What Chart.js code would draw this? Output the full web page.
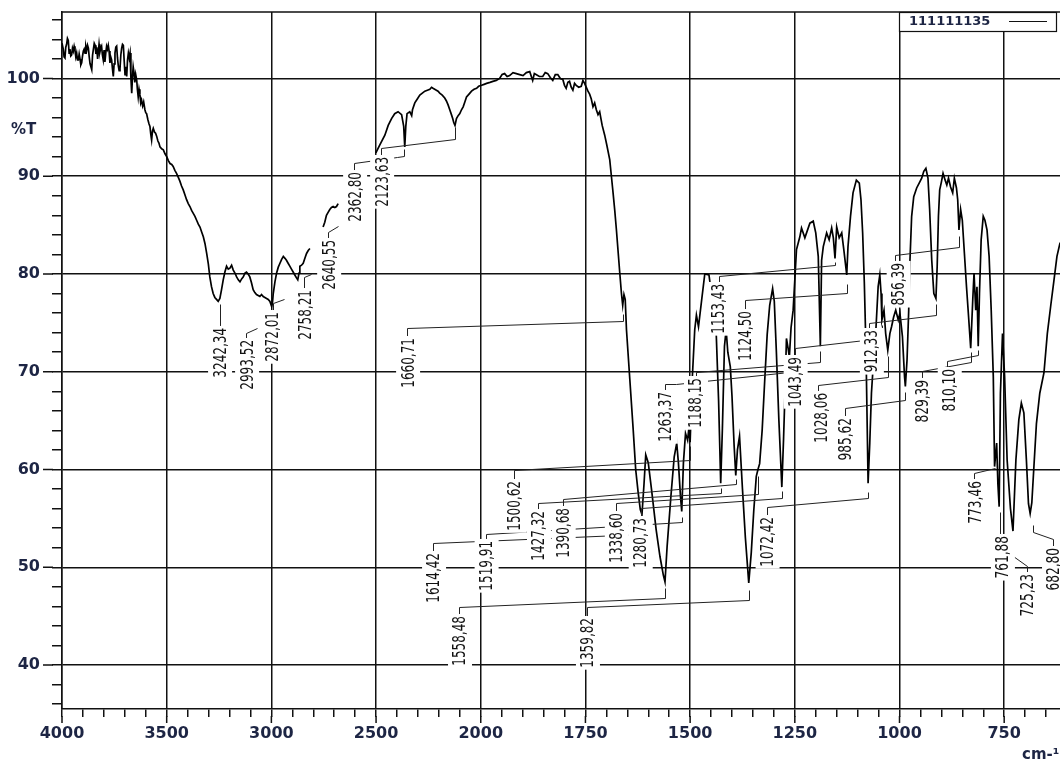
<!DOCTYPE html>
<html>
<head>
<meta charset="utf-8">
<title>111111135</title>
<script src="https://cdn.jsdelivr.net/npm/chart.js@4.4.0/dist/chart.umd.min.js"></script>
<style>
  html, body { margin: 0; padding: 0; background: #fff; overflow: hidden; }
  #wrap { width: 1068px; height: 760px; }
</style>
</head>
<body>
<div id="wrap"><canvas id="myChart" width="1068" height="760"></canvas></div>
<script>
// spectrum: [wavenumber cm-1, %T]
const plateau = [
  [4000,103.6],[3994,103.0],[3990,102.2],[3986,102.1],[3982,103.2],[3978,103.5],[3974,104.1],[3970,103.9],[3966,102.6],[3962,103.0],
  [3958,102.3],[3954,102.4],[3950,103.1],[3946,102.8],[3942,103.3],[3938,102.9],[3934,102.2],[3930,102.6],[3926,101.9],[3922,101.9],
  [3918,102.5],[3914,102.0],[3910,101.4],[3906,101.6],[3902,102.3],[3898,102.8],[3894,103.0],[3890,102.6],[3886,103.3],[3882,102.9],
  [3878,103.4],[3874,103.1],[3870,102.2],[3866,101.5],[3862,101.2],[3858,100.9],[3854,102.4],[3850,103.0],[3846,103.6],[3842,103.4],
  [3838,102.5],[3834,103.2],[3830,102.0],[3827,102.6],[3823,103.5],[3819,102.7],[3815,103.1],[3811,103.3],[3807,102.4],[3803,101.9],
  [3799,102.9],[3795,101.7],[3791,102.6],[3787,103.3],[3783,103.0],[3779,103.4],[3775,102.8],[3771,101.6],[3767,102.2],[3763,101.9],
  [3759,101.0],[3755,100.2],[3751,101.5],[3747,102.6],[3743,103.2],[3739,103.3],[3735,102.1],[3731,101.3],[3727,100.8],[3723,101.0],
  [3719,102.4],[3715,103.1],[3711,103.5],[3707,103.4],[3703,101.8],[3699,100.4],[3695,101.2],[3691,100.2],[3687,101.9],[3683,102.6],
  [3679,102.1],[3675,102.6],[3671,100.1],[3667,98.5],[3663,100.3],[3660,101.2],[3656,100.6],[3652,99.6],[3648,100.4],[3643,99.8],
  [3640,98.9]
];
const ohBand = [
  [3636,98.1],[3632,98.9],[3628,98.4],[3624,97.5],[3620,97.8],[3615,97.2],[3610,97.6],[3604,96.8],[3600,96.5],[3596,96.4],
  [3590,95.8],[3585,95.4],[3580,95.1],[3576,94.3],[3572,93.7],[3568,94.6],[3564,94.9],[3558,94.5],[3553,94.4],[3548,94.1],
  [3542,93.6],[3537,93.4],[3532,93.0],[3524,92.8],[3516,92.7],[3508,92.3],[3500,92.0],[3492,91.6],[3484,91.3],[3476,91.2],
  [3469,91.0],[3461,90.6],[3453,90.3],[3445,89.9],[3437,89.5],[3429,89.0],[3421,88.6],[3413,88.1],[3405,87.6],[3397,87.2],
  [3389,86.9],[3381,86.5],[3373,86.2],[3365,85.9],[3357,85.5],[3349,85.1],[3341,84.8],[3333,84.3],[3325,83.8],[3317,83.1],
  [3309,82.1],[3301,81.0],[3294,79.7],[3286,78.7],[3278,78.0],[3270,77.6],[3262,77.4],[3254,77.2],[3246,77.5],[3238,78.4],
  [3230,79.4],[3222,80.2],[3214,80.8],[3206,80.5],[3198,80.6],[3190,80.9],[3182,80.4],[3174,80.1],[3166,79.7],[3158,79.4],
  [3150,79.2],[3142,79.5],[3134,79.7],[3126,80.1],[3119,80.2],[3111,80.0],[3103,79.7],[3095,79.1],[3087,78.4],[3079,78.1],
  [3071,77.9],[3063,77.8],[3055,77.7],[3047,77.9],[3039,77.7],[3031,77.6],[3023,77.5],[3015,77.4],[3007,77.2],[2999,76.7],
  [2995,77.0],[2991,78.0],[2983,79.2],[2975,80.1],[2967,80.7],[2959,81.1],[2951,81.5],[2943,81.8],[2935,81.6],[2928,81.4],
  [2920,81.1],[2912,80.8],[2904,80.5],[2896,80.2],[2888,79.9],[2880,79.6],[2874,79.4],[2868,80.1],[2864,80.8],[2856,80.9],
  [2848,81.1],[2840,81.6],[2832,82.1],[2824,82.4],[2816,82.6]
];
const chBand = [
  [2753,84.8],[2745,85.3],[2737,86.0],[2729,86.3],[2721,86.6],[2713,86.8],[2705,86.9],[2697,86.8],[2689,86.9],[2681,87.2]
];
const baseline = [
  [2501,92.4],[2482,93.2],[2458,94.2],[2442,95.2],[2426,95.9],[2411,96.4],[2395,96.6],[2378,96.3],[2368,95.1],[2363,93.0],
  [2358,95.1],[2352,96.4],[2339,96.6],[2330,96.2],[2326,96.8],[2315,97.5],[2303,97.9],[2291,98.3],[2279,98.5],[2267,98.7],
  [2255,98.8],[2243,98.9],[2235,99.1],[2228,99.0],[2220,98.9],[2212,98.8],[2204,98.7],[2196,98.5],[2184,98.3],[2172,98.0],
  [2164,97.7],[2156,97.3],[2148,96.8],[2140,96.3],[2134,95.9],[2129,95.5],[2123,95.2],[2116,95.9],[2108,96.2],[2100,96.4],
  [2092,96.8],[2084,97.1],[2076,97.6],[2068,98.1],[2056,98.4],[2044,98.7],[2032,98.9],[2020,99.0],[2010,99.2],[1998,99.3],
  [1992,99.4],[1986,99.5],[1978,99.6],[1971,99.7],[1963,99.8],[1955,100.0],[1949,100.4],[1943,100.5],[1937,100.2],[1931,100.3],
  [1923,100.6],[1915,100.5],[1907,100.4],[1899,100.3],[1891,100.6],[1883,100.7],[1876,99.8],[1872,100.5],[1868,100.4],[1860,100.2],
  [1852,100.2],[1846,100.6],[1840,100.5],[1834,100.1],[1828,99.8],[1822,100.4],[1816,100.4],[1810,100.0],[1804,99.9],[1800,99.3],
  [1796,99.0],[1792,99.6],[1788,99.7],[1784,99.1],[1780,98.8],[1776,99.5],[1772,99.3],[1766,99.1],[1760,99.2],[1756,99.8],
  [1752,99.5],[1749,99.2],[1744,98.7],[1740,98.4],[1736,97.9],[1732,97.1],[1728,97.5],[1724,96.8],[1720,96.3],[1716,96.6],
  [1713,95.9],[1710,95.2],[1704,94.2],[1699,93.2],[1692,91.7],[1688,90.0],[1684,88.3],[1680,86.5],[1676,84.5],[1672,82.3],
  [1668,80.1],[1664,78.0],[1661,76.8],[1658,77.9],[1655,77.4],[1652,74.3],[1644,69.2]
];
const fingerprint = [
  [1636,64.1],[1630,60.0],[1624,57.6],[1619,55.9],[1615,55.4],[1610,58.6],[1606,61.5],[1600,60.7],[1592,57.9],[1581,53.8],
  [1572,51.1],[1564,49.2],[1560,48.5],[1555,52.1],[1546,57.2],[1538,61.3],[1532,62.7],[1528,60.7],[1523,57.2],[1520,55.7],
  [1516,60.7],[1511,63.7],[1506,63.0],[1503,64.2],[1500,62.8],[1495,69.2],[1489,74.3],[1485,75.8],[1480,74.6],[1472,77.5],
  [1465,80.0],[1455,79.9],[1446,77.0],[1438,74.3],[1432,67.0],[1427,58.6],[1423,64.1],[1418,72.6],[1414,74.3],[1410,72.0],
  [1404,70.5],[1400,67.5],[1395,62.5],[1391,59.4],[1387,62.0],[1382,63.4],[1375,58.0],[1368,53.0],[1360,48.4],[1354,51.5],
  [1348,55.8],[1342,59.3],[1338,60.0],[1334,60.6],[1328,64.0],[1322,69.0],[1316,73.8],[1310,76.8],[1303,78.5],[1299,77.2],
  [1294,72.0],[1288,65.0],[1281,58.2],[1277,63.0],[1273,68.5],[1270,73.4],[1266,72.4],[1263,71.5],[1259,74.5],[1254,76.3],
  [1246,82.5],[1238,83.8],[1234,84.7],[1226,83.7],[1214,85.2],[1206,85.4],[1200,84.2],[1194,81.8],[1189,72.6],[1186,81.4],
  [1182,82.8],[1174,84.2],[1168,83.5],[1162,84.7],[1158,83.7],[1154,81.6],[1150,84.8],[1144,83.7],[1138,84.2],[1133,82.5],
  [1126,79.9],[1123,82.8],[1117,85.9],[1111,88.3],[1103,89.6],[1096,89.3],[1092,87.6],[1088,84.2],[1084,79.1],[1080,72.2],
  [1075,58.6],[1071,62.7],[1067,67.8],[1063,70.5],[1056,74.6],[1051,78.7],[1047,79.9],[1044,78.0],[1042,75.3],[1037,76.3],
  [1033,73.9],[1028,72.2],[1023,73.9],[1019,74.6],[1014,75.6],[1009,76.3],[1003,75.3],[999,76.0],[993,73.6],[988,69.5],
  [986,68.5],[982,71.2],[978,76.3],[975,81.4],[971,85.9],[966,87.9],[959,88.8],[953,89.3],[947,89.8],[942,90.5],
  [937,90.8],[932,89.8],[928,86.6],[923,81.4],[918,78.0],[913,77.5],[910,80.8],[907,85.9],[904,88.6],[900,89.4],
  [896,90.3],[891,89.6],[887,89.1],[883,89.8],[878,88.9],[873,88.3],[869,89.8],[864,88.8],[861,87.6],[858,84.5],
  [854,86.6],[850,85.5],[845,82.1],[840,78.7],[835,75.6],[830,72.4],[825,77.4],[822,80.1],[818,76.3],[815,78.7],
  [812,72.6],[809,78.0],[805,83.5],[800,85.9],[796,85.5],[791,84.5],[786,81.8],[781,76.3],[776,69.5],[773,60.3],
  [768,62.7],[765,58.5],[762,56.2],[759,67.8],[754,73.9],[749,69.5],[743,61.0],[735,56.0],[729,53.7],[722,61.0],
  [715,65.1],[709,66.8],[703,65.8],[697,61.0],[692,56.5],[688,55.5],[684,56.6],[679,60.3],[673,64.7],[665,67.8],
  [655,69.9],[647,73.9],[639,76.7],[631,79.4],[624,81.8],[617,83.1],[603,84.0]
];

const legendLabel = '111111135';
const majorTicksX = [4000, 3500, 3000, 2500, 2000, 1750, 1500, 1250, 1000, 750];
const yTickLabels = [40, 50, 60, 70, 80, 90, 100];

// peak labels: text, label foot [wn, %T of its upper end], leader line
const peaks = [
  { t: '3242,34', at: [3245, 74.48], path: [[3245, 74.7], [3245, 76.9]] },
  { t: '2993,52', at: [3116, 73.25], path: [[3121, 73.45], [3121, 73.97], [3068, 74.48]] },
  { t: '2872,01', at: [2992, 76.11], path: [[2992, 76.32], [2992, 77.03], [2939, 77.44]] },
  { t: '2758,21', at: [2839, 78.36], path: [[2844, 78.57], [2844, 79.69], [2810, 80.0]] },
  { t: '2640,55', at: [2724, 83.48], path: [[2729, 83.68], [2729, 84.3], [2681, 84.91]] },
  { t: '2362,80', at: [2600, 90.43], path: [[2605, 90.64], [2605, 91.36], [2400, 91.97], [2366, 92.07], [2366, 92.79]] },
  { t: '2123,63', at: [2471, 91.97], path: [[2476, 92.07], [2476, 92.89], [2123, 93.81], [2123, 95.04]] },
  { t: '1660,71', at: [2347, 73.45], path: [[2352, 73.66], [2352, 74.48], [1661, 75.19], [1661, 75.91]] },
  { t: '1614,42', at: [2223, 51.46], path: [[2228, 51.66], [2228, 52.48], [1615, 53.4], [1615, 54.83]] },
  { t: '1558,48', at: [2099, 45.01], path: [[2104, 45.22], [2104, 45.93], [1560, 46.85], [1560, 47.88]] },
  { t: '1519,91', at: [1986, 52.69], path: [[1988, 52.89], [1988, 53.4], [1520, 54.63], [1520, 55.14]] },
  { t: '1500,62', at: [1919, 58.82], path: [[1921, 59.03], [1921, 59.95], [1501, 60.97], [1501, 62.4]] },
  { t: '1427,32', at: [1861, 55.75], path: [[1864, 55.96], [1864, 56.57], [1427, 57.6], [1427, 58.1]] },
  { t: '1390,68', at: [1802, 56.06], path: [[1804, 56.27], [1804, 56.98], [1391, 58.52], [1391, 59.03]] },
  { t: '1359,82', at: [1744, 44.81], path: [[1747, 45.01], [1747, 45.93], [1360, 46.65], [1360, 47.67]] },
  { t: '1338,60', at: [1675, 55.55], path: [[1678, 55.75], [1678, 56.57], [1338, 57.49], [1338, 59.33]] },
  { t: '1280,73', at: [1618, 55.04], path: [[1618, 55.24], [1618, 56.06], [1281, 57.08], [1281, 57.8]] },
  { t: '1263,37', at: [1558, 67.93], path: [[1561, 68.13], [1561, 68.75], [1534, 68.75], [1264, 69.97], [1264, 71.0]] },
  { t: '1188,15', at: [1486, 69.36], path: [[1486, 69.56], [1486, 69.97], [1189, 71.0], [1189, 72.12]] },
  { t: '1153,43', at: [1432, 78.98], path: [[1432, 79.18], [1432, 79.8], [1154, 80.92], [1154, 81.2]] },
  { t: '1124,50', at: [1367, 76.21], path: [[1369, 76.42], [1369, 77.34], [1126, 78.06], [1126, 78.98]] },
  { t: '1072,42', at: [1315, 55.14], path: [[1317, 55.34], [1317, 56.16], [1075, 57.08], [1075, 57.7]] },
  { t: '1043,49', at: [1248, 71.51], path: [[1250, 71.71], [1250, 72.43], [1042, 73.45], [1042, 74.78]] },
  { t: '1028,06', at: [1186, 67.83], path: [[1195, 68.03], [1195, 68.64], [1028, 69.46], [1028, 71.61]] },
  { t: '985,62', at: [1128, 65.27], path: [[1131, 65.47], [1131, 66.29], [986, 67.11], [986, 67.93]] },
  { t: '912,33', at: [1066, 74.27], path: [[1073, 74.48], [1073, 74.99], [913, 75.81], [913, 76.93]] },
  { t: '856,39', at: [1002, 81.13], path: [[1011, 81.33], [1011, 81.94], [858, 82.76], [858, 83.89]] },
  { t: '829,39', at: [945, 69.16], path: [[947, 69.36], [947, 70.08], [830, 71.0], [830, 72.02]] },
  { t: '810,10', at: [880, 70.28], path: [[887, 70.49], [887, 71.1], [812, 71.72], [812, 72.23]] },
  { t: '773,46', at: [818, 58.82], path: [[823, 59.03], [823, 59.64], [773, 60.15]] },
  { t: '761,88', at: [753, 53.2], path: [[760, 53.4], [760, 55.65]] },
  { t: '725,23', at: [693, 49.31], path: [[696, 49.51], [696, 50.13], [729, 51.15], [729, 52.28]] },
  { t: '682,80', at: [631, 51.97], path: [[634, 52.17], [634, 52.89], [682, 53.61], [682, 54.32]] }
];

// the axis is stretched 2x below 2000 cm-1, so plot on a position scale
const toP = wn => wn >= 2000 ? 4000 - wn : 2000 + (2000 - wn) * 2;
const fromP = p => p <= 2000 ? 4000 - p : 2000 - (p - 2000) / 2;

const xTickWn = [];
for (let w = 4000; w >= 2000; w -= 100) xTickWn.push(w);
for (let w = 1950; w >= 650; w -= 50) xTickWn.push(w);
const yTickVals = [];
for (let v = 36; v <= 106; v += 2) yTickVals.push(v);

const points = [];
[plateau, ohBand, null, chBand, null, baseline, fingerprint].forEach(seg => {
  if (!seg) {
    points.push({ x: points[points.length - 1].x + 1, y: null });
    return;
  }
  seg.forEach(([wn, t]) => points.push({ x: toP(wn), y: t }));
});

const ink = '#111';
const tickInk = '#1d2544';
const tickFont = { family: '"DejaVu Sans", Verdana, sans-serif', size: 16, weight: 'bold' };
const labelFont = '17px "Liberation Sans Narrow", "DejaVu Sans Condensed", "Liberation Sans", sans-serif';

const isMajorX = v => majorTicksX.includes(Math.round(fromP(v)));
const isMajorY = v => yTickLabels.includes(v);

const peakPlugin = {
  id: 'peaks',
  afterDatasetsDraw(chart) {
    const { ctx, scales: { x, y } } = chart;
    const px = wn => x.getPixelForValue(toP(wn));
    const py = t => y.getPixelForValue(t);
    ctx.save();
    ctx.strokeStyle = '#222';
    ctx.lineWidth = 1;
    peaks.forEach(pk => {
      ctx.beginPath();
      pk.path.forEach(([w, t], i) => {
        const X = Math.round(px(w)) + 0.5, Y = Math.round(py(t)) + 0.5;
        if (i) ctx.lineTo(X, Y); else ctx.moveTo(X, Y);
      });
      ctx.stroke();
    });
    ctx.font = labelFont;
    peaks.forEach(pk => {
      const cx = px(pk.at[0]), top = py(pk.at[1]);
      const w = ctx.measureText(pk.t).width;
      const sx = Math.min(1, pk.t.length * 7.1 / w);
      const len = w * sx;
      ctx.fillStyle = '#fff';
      ctx.fillRect(cx - 12, top - 2, 24, len + 4);
      ctx.save();
      ctx.translate(cx, top);
      ctx.rotate(-Math.PI / 2);
      ctx.scale(sx, 1);
      ctx.textAlign = 'right';
      ctx.textBaseline = 'middle';
      ctx.fillStyle = ink;
      ctx.fillText(pk.t, 0, 1);
      ctx.restore();
    });
    ctx.restore();
  }
};

const framePlugin = {
  id: 'frame',
  afterDraw(chart) {
    const { ctx, chartArea: a, scales: { x, y } } = chart;
    ctx.save();
    ctx.strokeStyle = ink;
    ctx.lineWidth = 1.5;
    ctx.beginPath();
    ctx.moveTo(a.left, a.top);
    ctx.lineTo(a.right, a.top);
    ctx.lineTo(a.right, a.bottom);
    yTickLabels.forEach(v => {
      const Y = y.getPixelForValue(v);
      ctx.moveTo(a.left - 19, Y);
      ctx.lineTo(a.left - 9, Y);
    });
    majorTicksX.forEach(w => {
      const X = x.getPixelForValue(toP(w));
      ctx.moveTo(X, a.bottom + 7);
      ctx.lineTo(X, a.bottom + 14);
    });
    ctx.stroke();

    ctx.fillStyle = tickInk;
    ctx.font = 'bold 15px "DejaVu Sans", sans-serif';
    ctx.textAlign = 'left';
    ctx.textBaseline = 'middle';
    ctx.fillText('%T', 11, 130);
    ctx.textBaseline = 'top';
    ctx.fillText('cm-¹', 1022, 748);

    // legend box
    ctx.fillStyle = '#fff';
    ctx.fillRect(899, 12, 157, 19);
    ctx.lineWidth = 1.2;
    ctx.strokeRect(899.5, 12.5, 157, 19);
    ctx.fillStyle = tickInk;
    ctx.font = 'bold 13px "DejaVu Sans", sans-serif';
    ctx.textBaseline = 'middle';
    ctx.fillText(legendLabel, 909, 22);
    ctx.beginPath();
    ctx.moveTo(1009, 21.5);
    ctx.lineTo(1047, 21.5);
    ctx.stroke();
    ctx.restore();
  }
};

new Chart(document.getElementById('myChart'), {
  type: 'line',
  data: {
    datasets: [{
      label: legendLabel,
      data: points,
      borderColor: '#000',
      borderWidth: 1.7,
      pointRadius: 0,
      tension: 0,
      spanGaps: false
    }]
  },
  options: {
    responsive: false,
    animation: false,
    devicePixelRatio: 1,
    layout: { padding: { top: 12, right: 1, left: 0, bottom: 0 } },
    plugins: { legend: { display: false }, tooltip: { enabled: false } },
    scales: {
      x: {
        type: 'linear',
        min: 0,
        max: 4800,
        afterBuildTicks: s => { s.ticks = xTickWn.map(w => ({ value: toP(w) })); },
        afterFit: s => { s.height = 51; s.paddingLeft = 0; s.paddingRight = 0; },
        grid: {
          color: c => (c.tick && isMajorX(c.tick.value)) ? ink : 'rgba(0,0,0,0)',
          tickColor: ink,
          lineWidth: 1.5,
          tickLength: 8
        },
        border: { color: ink, width: 1.5 },
        ticks: {
          autoSkip: false,
          maxRotation: 0,
          padding: 7,
          color: tickInk,
          font: tickFont,
          callback: v => isMajorX(v) ? String(Math.round(fromP(v))) : ''
        }
      },
      y: {
        min: 35.5,
        max: 106.8,
        afterBuildTicks: s => { s.ticks = yTickVals.map(v => ({ value: v })); },
        afterFit: s => { s.width = 62; s.paddingTop = 0; s.paddingBottom = 0; },
        grid: {
          color: c => (c.tick && isMajorY(c.tick.value)) ? ink : 'rgba(0,0,0,0)',
          tickColor: ink,
          lineWidth: 1.5,
          tickLength: 10
        },
        border: { color: ink, width: 1.5 },
        ticks: {
          autoSkip: false,
          padding: 12,
          color: tickInk,
          font: tickFont,
          callback: v => isMajorY(v) ? String(v) : ''
        }
      }
    }
  },
  plugins: [peakPlugin, framePlugin]
});
</script>
</body>
</html>
